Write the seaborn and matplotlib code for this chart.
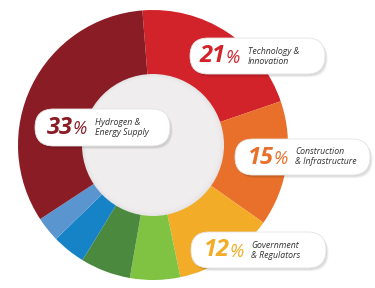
import matplotlib
matplotlib.use("Agg")
import matplotlib.pyplot as plt
import seaborn as sns
from matplotlib.patches import Circle, FancyBboxPatch

sns.set_theme(style="white")
plt.rcParams['font.family'] = ['Open Sans', 'DejaVu Sans']

# ---- data ----
categories = ["Technology & Innovation", "Construction & Infrastructure",
              "Government & Regulators", "Other A", "Other B", "Other C",
              "Other D", "Hydrogen & Energy Supply"]
values = [21, 15, 12, 6, 6, 4, 3, 33]
colors = ["#d2232a", "#e8702a", "#f2ac27", "#80c342", "#4b8a3e",
          "#1683c6", "#5a95d0", "#8a1c25"]
palette = sns.color_palette(colors)

label_pcts = ["21", "33", "15", "12"]
label_lines = [["Technology &", "Innovation"],
               ["Hydrogen &", "Energy Supply"],
               ["Construction", "& Infrastructure"],
               ["Government", "& Regulators"]]
label_colors = ["#d2232a", "#8a1c25", "#e8702a", "#f2ac27"]

# ---- layout (pixel space, y up) ----
W, H = 375, 288
fig = plt.figure(figsize=(3.75, 2.88), dpi=100)
ax = fig.add_axes([0, 0, 1, 1])
cx, cy = 153, H - 145
R, r = 135, 71

ax.pie(values, colors=palette, startangle=94.5, counterclock=False,
       center=(cx, cy), radius=R, wedgeprops=dict(linewidth=0))
# inner disc with a soft inner shadow near its rim
ax.add_patch(Circle((cx, cy), r, facecolor="#e6e4e4", edgecolor="none", zorder=3))
for k, col in enumerate(["#e9e7e7", "#eceaea", "#eeecec", "#efeded"]):
    ax.add_patch(Circle((cx - 0.3 * k, cy + 0.3 * k), r - 1.2 * (k + 1),
                        facecolor=col, edgecolor="none", zorder=3))

# pills: (x0, y0_top, x1, y1_bottom) in image coords
pills = [(190, 38, 325, 74), (35, 109, 170, 146), (235, 139, 370, 175), (191, 232, 326, 268)]
pct_x = [200, 47, 248, 204]
txt_x = [248, 95, 295, 251]

for i, (x0, y0, x1, y1) in enumerate(pills):
    h = y1 - y0
    yb = H - y1
    for k in range(3):
        sh = FancyBboxPatch((x0 + 1 + k * 0.8, yb - 1.5 - k * 0.8), x1 - x0, h,
                            boxstyle=f"round,pad=0,rounding_size={h/2}",
                            facecolor="black", alpha=0.05, edgecolor="none", zorder=4)
        ax.add_patch(sh)
    p = FancyBboxPatch((x0, yb), x1 - x0, h,
                       boxstyle=f"round,pad=0,rounding_size={h/2}",
                       facecolor="white", edgecolor="#e4e4e4", linewidth=0.6, zorder=5)
    ax.add_patch(p)
    ymid = H - (y0 + y1) / 2
    t = ax.text(pct_x[i], ymid - 0.5, label_pcts[i], fontsize=17, fontweight="bold",
                fontstyle="italic", color=label_colors[i], ha="left", va="center",
                zorder=6)
    ax.annotate("%", xy=(1, 0), xycoords=t, xytext=(-0.6, 1.2), textcoords="offset points",
                fontsize=13, fontstyle="italic", color=label_colors[i],
                ha="left", va="bottom", zorder=6)
    ax.text(txt_x[i], ymid + 5, label_lines[i][0], fontsize=6.3, fontstyle="italic",
            color="#333333", ha="left", va="center", zorder=6)
    ax.text(txt_x[i], ymid - 5, label_lines[i][1], fontsize=6.3, fontstyle="italic",
            color="#333333", ha="left", va="center", zorder=6)

ax.set_xlim(0, W)
ax.set_ylim(0, H)
ax.set_aspect("auto")
ax.axis("off")
fig.savefig("out.png", dpi=100, facecolor="white")
